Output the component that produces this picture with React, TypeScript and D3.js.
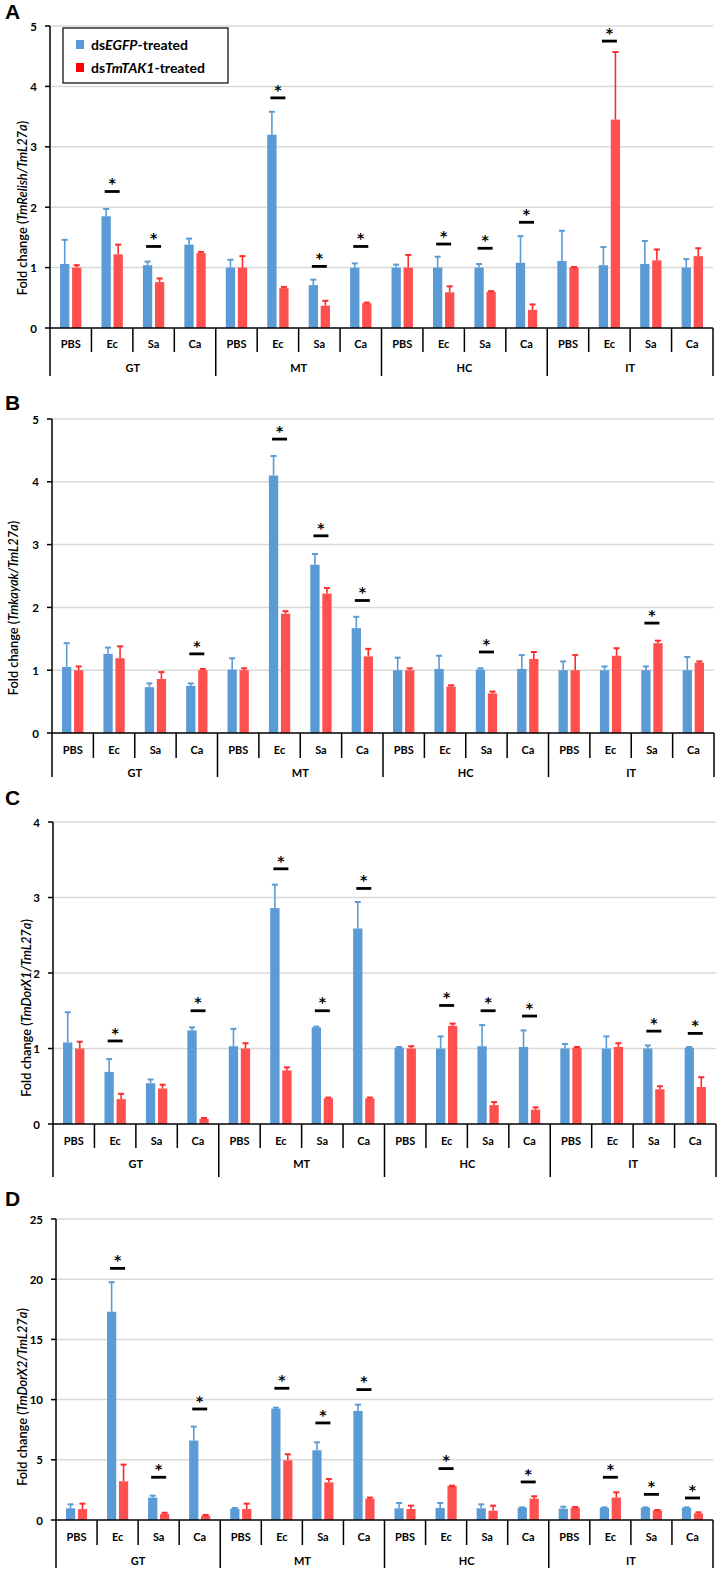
import React from "react";
import * as d3 from "d3";

const groups = ["GT", "MT", "HC", "IT"];
const treatments = ["PBS", "Ec", "Sa", "Ca"];
const seriesKeys = ["egfp", "tak1"];

// Panel A: TmRelish
const relishEGFP = [1.06, 1.85, 1.04, 1.38, 1.0, 3.2, 0.71, 1.0, 1.0, 1.0, 1.0, 1.08, 1.11, 1.04, 1.06, 1.0];
const relishEGFPErr = [0.4, 0.12, 0.06, 0.1, 0.13, 0.38, 0.09, 0.07, 0.05, 0.18, 0.06, 0.44, 0.5, 0.3, 0.38, 0.14];
const relishTAK1 = [1.0, 1.22, 0.76, 1.24, 1.0, 0.66, 0.37, 0.41, 1.0, 0.59, 0.6, 0.3, 1.0, 3.45, 1.12, 1.19];
const relishTAK1Err = [0.04, 0.16, 0.06, 0.02, 0.19, 0.02, 0.08, 0.01, 0.21, 0.1, 0.01, 0.09, 0.01, 1.12, 0.18, 0.13];
const relishSig = [null, 2.26, 1.35, null, null, 3.81, 1.02, 1.35, null, 1.39, 1.32, 1.75, null, 4.75, null, null];

// Panel B: Tmkayak
const kayakEGFP = [1.05, 1.26, 0.73, 0.75, 1.01, 4.1, 2.68, 1.67, 1.0, 1.02, 1.01, 1.02, 1.0, 1.0, 1.0, 1.0];
const kayakEGFPErr = [0.38, 0.1, 0.06, 0.04, 0.18, 0.31, 0.17, 0.18, 0.2, 0.21, 0.02, 0.22, 0.14, 0.06, 0.06, 0.21];
const kayakTAK1 = [1.0, 1.19, 0.86, 1.0, 1.0, 1.9, 2.22, 1.22, 1.0, 0.74, 0.63, 1.18, 1.0, 1.23, 1.43, 1.12];
const kayakTAK1Err = [0.06, 0.19, 0.11, 0.02, 0.03, 0.04, 0.09, 0.12, 0.03, 0.02, 0.03, 0.11, 0.24, 0.12, 0.04, 0.02];
const kayakSig = [null, null, null, 1.26, null, 4.68, 3.14, 2.11, null, null, 1.29, null, null, null, 1.75, null];

// Panel C: TmDorX1
const dorx1EGFP = [1.08, 0.69, 0.54, 1.24, 1.03, 2.86, 1.28, 2.59, 1.01, 1.0, 1.03, 1.02, 1.0, 1.0, 1.0, 1.01];
const dorx1EGFPErr = [0.4, 0.17, 0.05, 0.04, 0.23, 0.31, 0.01, 0.35, 0.01, 0.16, 0.28, 0.22, 0.06, 0.16, 0.04, 0.01];
const dorx1TAK1 = [1.0, 0.33, 0.47, 0.07, 1.0, 0.71, 0.34, 0.34, 1.0, 1.3, 0.25, 0.19, 1.01, 1.02, 0.46, 0.49];
const dorx1TAK1Err = [0.09, 0.07, 0.05, 0.01, 0.07, 0.04, 0.01, 0.01, 0.03, 0.03, 0.04, 0.03, 0.01, 0.05, 0.04, 0.13];
const dorx1Sig = [null, 1.1, null, 1.5, null, 3.38, 1.5, 3.12, null, 1.57, 1.5, 1.43, null, null, 1.23, 1.2];

// Panel D: TmDorX2
const dorx2EGFP = [0.97, 17.3, 1.86, 6.6, 0.94, 9.25, 5.79, 9.06, 0.97, 1.0, 0.97, 1.02, 0.94, 1.02, 1.02, 1.02];
const dorx2EGFPErr = [0.33, 2.45, 0.16, 1.16, 0.06, 0.08, 0.66, 0.52, 0.44, 0.41, 0.33, 0.03, 0.16, 0.03, 0.03, 0.03];
const dorx2TAK1 = [0.91, 3.21, 0.5, 0.36, 0.91, 4.96, 3.13, 1.77, 0.91, 2.83, 0.78, 1.77, 1.02, 1.86, 0.8, 0.55];
const dorx2TAK1Err = [0.45, 1.39, 0.1, 0.06, 0.45, 0.5, 0.27, 0.09, 0.28, 0.02, 0.41, 0.2, 0.06, 0.44, 0.03, 0.09];
const dorx2Sig = [null, 20.9, 3.55, 9.22, null, 10.94, 8.06, 10.83, null, 4.27, null, 3.16, null, 3.55, 2.13, 1.83];

const categories = groups.flatMap((g) => treatments.map((t) => `${g}|${t}`));

const BLUE = "#5B9BD5";
const RED = "#FF5050";
const RED_ERR = "#FF2A2A";
const GRID = "#D9D9D9";
const FONT = "Lato, 'Open Sans', Arial, sans-serif";

type Layout = {
  axisX: number;
  right: number;
  y0: number;
  yTop: number;
  yMax: number;
  step: number;
  tickBottom: number;
  catLabelY: number;
  groupLabelY: number;
  sepBottom: number;
  letter: string;
  letterY: number;
  labelX: number;
  labelY: number;
  gene: string;
};

function Panel({
  L,
  egfp,
  egfpErr,
  tak1,
  tak1Err,
  sig,
}: {
  L: Layout;
  egfp: number[];
  egfpErr: number[];
  tak1: number[];
  tak1Err: number[];
  sig: (number | null)[];
}) {
  const x = d3.scaleBand<string>().domain(categories).range([L.axisX, L.right]).padding(0);
  const bw = x.bandwidth();
  const xs = d3
    .scaleBand<string>()
    .domain(seriesKeys)
    .range([0.2425 * bw, 0.7575 * bw])
    .paddingInner(0.225);
  const y = d3.scaleLinear().domain([0, L.yMax]).range([L.y0, L.yTop]);
  const ticks = d3.range(0, L.yMax + L.step / 2, L.step);
  const boundaries = d3.range(0, categories.length + 1);

  const series = [
    { key: "egfp", vals: egfp, errs: egfpErr, fill: BLUE, err: BLUE },
    { key: "tak1", vals: tak1, errs: tak1Err, fill: RED, err: RED_ERR },
  ];

  return (
    <g>
      <text x={5} y={L.letterY} fontFamily="'Liberation Sans', Arial, sans-serif" fontWeight="bold" fontSize={21}>
        {L.letter}
      </text>
      {ticks
        .filter((t) => t > 0)
        .map((t) => (
          <line key={"g" + t} x1={L.axisX} x2={L.right} y1={y(t)} y2={y(t)} stroke={GRID} strokeWidth={1.5} />
        ))}
      {ticks.map((t) => (
        <g key={"t" + t}>
          <line x1={L.axisX - 5} x2={L.axisX} y1={y(t)} y2={y(t)} stroke="#000" strokeWidth={1.5} />
          <text
            x={L.axisX - 13}
            y={y(t)}
            textAnchor="end"
            dominantBaseline="central"
            fontFamily={FONT}
            fontWeight="bold"
            fontSize={11.5}
          >
            {t}
          </text>
        </g>
      ))}
      {series.map((s) =>
        categories.map((c, i) => {
          const bx = (x(c) as number) + (xs(s.key) as number);
          const w = xs.bandwidth();
          const cx = bx + w / 2;
          const v = s.vals[i];
          const e = s.errs[i];
          return (
            <g key={s.key + c}>
              <rect x={bx} y={y(v)} width={w} height={L.y0 - y(v)} fill={s.fill} />
              <line x1={cx} x2={cx} y1={y(v)} y2={y(v + e)} stroke={s.err} strokeWidth={1.6} />
              <line x1={cx - 3} x2={cx + 3} y1={y(v + e)} y2={y(v + e)} stroke={s.err} strokeWidth={2} />
            </g>
          );
        })
      )}
      {sig.map((sv, i) =>
        sv == null ? null : (
          <g key={"s" + i}>
            <line
              x1={(x(categories[i]) as number) + bw / 2 - 7.5}
              x2={(x(categories[i]) as number) + bw / 2 + 7.5}
              y1={y(sv)}
              y2={y(sv)}
              stroke="#000"
              strokeWidth={2.8}
            />
            <text
              x={(x(categories[i]) as number) + bw / 2}
              y={y(sv) - 3.3}
              textAnchor="middle"
              fontFamily="'DejaVu Sans', sans-serif"
              fontWeight="bold"
              fontSize={14}
            >
              *
            </text>
          </g>
        )
      )}
      <line x1={L.axisX} x2={L.axisX} y1={L.yTop} y2={L.sepBottom} stroke="#000" strokeWidth={1.5} />
      <line x1={L.axisX} x2={L.right} y1={L.y0} y2={L.y0} stroke="#000" strokeWidth={1.5} />
      {boundaries.map((b) => {
        const bxp = L.axisX + b * bw;
        const isGroup = b % treatments.length === 0;
        if (b === 0) return null;
        return (
          <line
            key={"b" + b}
            x1={bxp}
            x2={bxp}
            y1={L.y0}
            y2={isGroup ? L.sepBottom : L.tickBottom}
            stroke="#000"
            strokeWidth={1.5}
          />
        );
      })}
      {categories.map((c) => (
        <text
          key={"cl" + c}
          x={(x(c) as number) + bw / 2}
          y={L.catLabelY}
          textAnchor="middle"
          dominantBaseline="central"
          fontFamily={FONT}
          fontWeight="bold"
          fontSize={11}
        >
          {c.split("|")[1]}
        </text>
      ))}
      {groups.map((g, gi) => (
        <text
          key={"gl" + g}
          x={L.axisX + (gi * 4 + 2) * bw}
          y={L.groupLabelY}
          textAnchor="middle"
          dominantBaseline="central"
          fontFamily={FONT}
          fontWeight="bold"
          fontSize={11}
        >
          {g}
        </text>
      ))}
      <text
        transform={`translate(${L.labelX},${L.labelY}) rotate(-90)`}
        textAnchor="middle"
        dominantBaseline="central"
        fontFamily={FONT}
        fontWeight={600}
        fontSize={12.8}
      >
        Fold change (<tspan fontStyle="italic">{L.gene}/TmL27a</tspan>)
      </text>
    </g>
  );
}

const layoutA: Layout = {
  axisX: 50, right: 713, y0: 328, yTop: 26, yMax: 5, step: 1,
  tickBottom: 352, catLabelY: 343, groupLabelY: 367, sepBottom: 376,
  letter: "A", letterY: 19, labelX: 22, labelY: 208, gene: "TmRelish",
};
const layoutB: Layout = {
  axisX: 52, right: 714, y0: 733, yTop: 419, yMax: 5, step: 1,
  tickBottom: 758, catLabelY: 749, groupLabelY: 772, sepBottom: 777,
  letter: "B", letterY: 410, labelX: 13, labelY: 608, gene: "Tmkayak",
};
const layoutC: Layout = {
  axisX: 53, right: 716, y0: 1124, yTop: 822, yMax: 4, step: 1,
  tickBottom: 1148, catLabelY: 1140, groupLabelY: 1163, sepBottom: 1177,
  letter: "C", letterY: 805, labelX: 26, labelY: 1008, gene: "TmDorX1",
};
const layoutD: Layout = {
  axisX: 56, right: 713, y0: 1520, yTop: 1219, yMax: 25, step: 5,
  tickBottom: 1545, catLabelY: 1536, groupLabelY: 1560, sepBottom: 1568,
  letter: "D", letterY: 1206, labelX: 22, labelY: 1397, gene: "TmDorX2",
};

export default function App() {
  return (
    <svg
      width={721}
      height={1573}
      style={{ position: "absolute", left: 0, top: 0, background: "#fff" }}
    >
      <rect x={0} y={0} width={721} height={1573} fill="#fff" />
      <Panel L={layoutA} egfp={relishEGFP} egfpErr={relishEGFPErr} tak1={relishTAK1} tak1Err={relishTAK1Err} sig={relishSig} />
      <Panel L={layoutB} egfp={kayakEGFP} egfpErr={kayakEGFPErr} tak1={kayakTAK1} tak1Err={kayakTAK1Err} sig={kayakSig} />
      <Panel L={layoutC} egfp={dorx1EGFP} egfpErr={dorx1EGFPErr} tak1={dorx1TAK1} tak1Err={dorx1TAK1Err} sig={dorx1Sig} />
      <Panel L={layoutD} egfp={dorx2EGFP} egfpErr={dorx2EGFPErr} tak1={dorx2TAK1} tak1Err={dorx2TAK1Err} sig={dorx2Sig} />
      <g>
        <rect x={63} y={28} width={165} height={55} fill="#fff" stroke="#000" strokeWidth={1.2} />
        <rect x={76} y={40} width={8} height={9} fill={BLUE} />
        <text x={91} y={49.5} fontFamily={FONT} fontWeight="bold" fontSize={14}>
          ds<tspan fontStyle="italic">EGFP</tspan>-treated
        </text>
        <rect x={76} y={63} width={8} height={9} fill="#FF0000" />
        <text x={91} y={72.5} fontFamily={FONT} fontWeight="bold" fontSize={14}>
          ds<tspan fontStyle="italic">TmTAK1</tspan>-treated
        </text>
      </g>
    </svg>
  );
}
